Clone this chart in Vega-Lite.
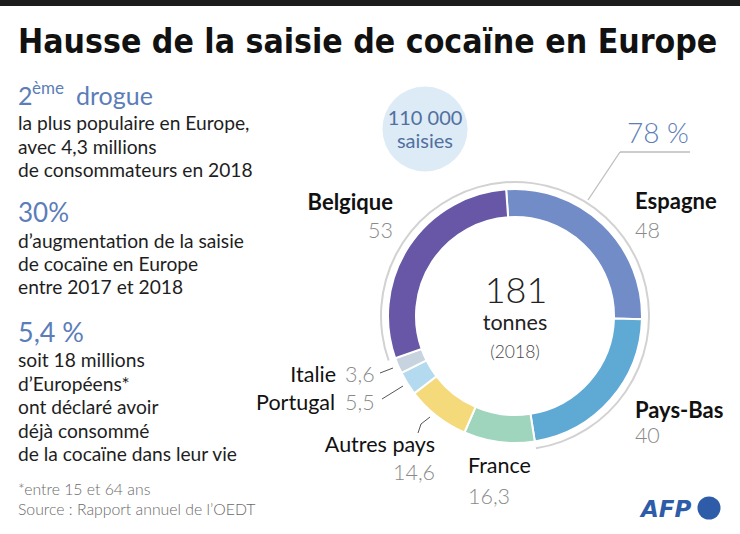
{
  "$schema": "https://vega.github.io/schema/vega-lite/v6.json",
  "width": 740,
  "height": 534,
  "autosize": {"type": "none"},
  "padding": 0,
  "background": "white",
  "config": {
    "view": {"stroke": null},
    "font": "Lato",
    "locale": {"number": {"decimal": ",", "thousands": "\u00a0", "grouping": [3], "currency": ["", "\u00a0€"]}}
  },
  "datasets": {
    "pays": [
      {"pays": "Espagne", "tonnes": 48},
      {"pays": "Pays-Bas", "tonnes": 40},
      {"pays": "France", "tonnes": 16.3},
      {"pays": "Autres pays", "tonnes": 14.6},
      {"pays": "Portugal", "tonnes": 5.5},
      {"pays": "Italie", "tonnes": 3.6},
      {"pays": "Belgique", "tonnes": 53}
    ],
    "one": [{"k": 1}]
  },
  "layer": [
    {
      "data": {"name": "one"},
      "mark": {"type": "rect", "color": "#1c1c1c"},
      "encoding": {
        "x": {"datum": 0, "type": "quantitative", "scale": {"domain": [0, 740], "nice": false, "zero": false}, "axis": null},
        "x2": {"datum": 740},
        "y": {"datum": 0, "type": "quantitative", "scale": {"domain": [0, 534], "reverse": true, "nice": false, "zero": false}, "axis": null},
        "y2": {"datum": 6}
      }
    },
    {
      "data": {"name": "one"},
      "mark": {"type": "text", "text": "Hausse de la saisie de cocaïne en Europe", "align": "left", "baseline": "alphabetic", "fontSize": 33.5, "fontWeight": "bold", "font": "DejaVu Sans Condensed", "color": "#111111"},
      "encoding": {
        "x": {"datum": 18, "type": "quantitative", "scale": {"domain": [0, 740], "nice": false, "zero": false}, "axis": null},
        "y": {"datum": 53, "type": "quantitative", "scale": {"domain": [0, 534], "reverse": true, "nice": false, "zero": false}, "axis": null}
      }
    },
    {
      "data": {"name": "one"},
      "mark": {"type": "text", "text": "2", "align": "left", "baseline": "alphabetic", "fontSize": 25, "color": "#5b7db8"},
      "encoding": {
        "x": {"datum": 18, "type": "quantitative", "scale": {"domain": [0, 740], "nice": false, "zero": false}, "axis": null},
        "y": {"datum": 105, "type": "quantitative", "scale": {"domain": [0, 534], "reverse": true, "nice": false, "zero": false}, "axis": null}
      }
    },
    {
      "data": {"name": "one"},
      "mark": {"type": "text", "text": "ème", "align": "left", "baseline": "alphabetic", "fontSize": 17, "color": "#5b7db8"},
      "encoding": {
        "x": {"datum": 32, "type": "quantitative", "scale": {"domain": [0, 740], "nice": false, "zero": false}, "axis": null},
        "y": {"datum": 94, "type": "quantitative", "scale": {"domain": [0, 534], "reverse": true, "nice": false, "zero": false}, "axis": null}
      }
    },
    {
      "data": {"name": "one"},
      "mark": {"type": "text", "text": "drogue", "align": "left", "baseline": "alphabetic", "fontSize": 25, "color": "#5b7db8"},
      "encoding": {
        "x": {"datum": 76, "type": "quantitative", "scale": {"domain": [0, 740], "nice": false, "zero": false}, "axis": null},
        "y": {"datum": 105, "type": "quantitative", "scale": {"domain": [0, 534], "reverse": true, "nice": false, "zero": false}, "axis": null}
      }
    },
    {
      "data": {"name": "one"},
      "mark": {"type": "text", "text": ["la plus populaire en Europe,", "avec 4,3 millions", "de consommateurs en 2018"], "align": "left", "baseline": "alphabetic", "fontSize": 19.2, "lineHeight": 23.5, "color": "#1e1e1e"},
      "encoding": {
        "x": {"datum": 18, "type": "quantitative", "scale": {"domain": [0, 740], "nice": false, "zero": false}, "axis": null},
        "y": {"datum": 130, "type": "quantitative", "scale": {"domain": [0, 534], "reverse": true, "nice": false, "zero": false}, "axis": null}
      }
    },
    {
      "data": {"name": "one"},
      "mark": {"type": "text", "text": "30%", "align": "left", "baseline": "alphabetic", "fontSize": 26, "color": "#5b7db8"},
      "encoding": {
        "x": {"datum": 18, "type": "quantitative", "scale": {"domain": [0, 740], "nice": false, "zero": false}, "axis": null},
        "y": {"datum": 222, "type": "quantitative", "scale": {"domain": [0, 534], "reverse": true, "nice": false, "zero": false}, "axis": null}
      }
    },
    {
      "data": {"name": "one"},
      "mark": {"type": "text", "text": ["d’augmentation de la saisie", "de cocaïne en Europe", "entre 2017 et 2018"], "align": "left", "baseline": "alphabetic", "fontSize": 19.2, "lineHeight": 23, "color": "#1e1e1e"},
      "encoding": {
        "x": {"datum": 18, "type": "quantitative", "scale": {"domain": [0, 740], "nice": false, "zero": false}, "axis": null},
        "y": {"datum": 248, "type": "quantitative", "scale": {"domain": [0, 534], "reverse": true, "nice": false, "zero": false}, "axis": null}
      }
    },
    {
      "data": {"name": "one"},
      "mark": {"type": "text", "text": "5,4 %", "align": "left", "baseline": "alphabetic", "fontSize": 27, "color": "#5b7db8"},
      "encoding": {
        "x": {"datum": 18, "type": "quantitative", "scale": {"domain": [0, 740], "nice": false, "zero": false}, "axis": null},
        "y": {"datum": 342, "type": "quantitative", "scale": {"domain": [0, 534], "reverse": true, "nice": false, "zero": false}, "axis": null}
      }
    },
    {
      "data": {"name": "one"},
      "mark": {"type": "text", "text": ["soit 18 millions", "d’Européens*", "ont déclaré avoir", "déjà consommé", "de la cocaïne dans leur vie"], "align": "left", "baseline": "alphabetic", "fontSize": 19.2, "lineHeight": 23.5, "color": "#1e1e1e"},
      "encoding": {
        "x": {"datum": 18, "type": "quantitative", "scale": {"domain": [0, 740], "nice": false, "zero": false}, "axis": null},
        "y": {"datum": 367, "type": "quantitative", "scale": {"domain": [0, 534], "reverse": true, "nice": false, "zero": false}, "axis": null}
      }
    },
    {
      "data": {"name": "one"},
      "mark": {"type": "text", "text": ["*entre 15 et 64 ans", "Source : Rapport annuel de l’OEDT"], "align": "left", "baseline": "alphabetic", "fontSize": 15.8, "lineHeight": 20, "color": "#6a6a6a", "fontWeight": 300},
      "encoding": {
        "x": {"datum": 18, "type": "quantitative", "scale": {"domain": [0, 740], "nice": false, "zero": false}, "axis": null},
        "y": {"datum": 495, "type": "quantitative", "scale": {"domain": [0, 534], "reverse": true, "nice": false, "zero": false}, "axis": null}
      }
    },
    {
      "data": {"name": "one"},
      "mark": {"type": "point", "shape": "circle", "filled": true, "size": 7238, "color": "#dcebf6", "opacity": 1},
      "encoding": {
        "x": {"datum": 425, "type": "quantitative", "scale": {"domain": [0, 740], "nice": false, "zero": false}, "axis": null},
        "y": {"datum": 129, "type": "quantitative", "scale": {"domain": [0, 534], "reverse": true, "nice": false, "zero": false}, "axis": null}
      }
    },
    {
      "data": {"name": "one"},
      "mark": {"type": "text", "text": ["110 000", "saisies"], "align": "center", "baseline": "alphabetic", "fontSize": 20, "lineHeight": 23, "color": "#52709f"},
      "encoding": {
        "x": {"datum": 425, "type": "quantitative", "scale": {"domain": [0, 740], "nice": false, "zero": false}, "axis": null},
        "y": {"datum": 125, "type": "quantitative", "scale": {"domain": [0, 534], "reverse": true, "nice": false, "zero": false}, "axis": null}
      }
    },
    {
      "data": {"name": "one"},
      "mark": {"type": "text", "text": "78 %", "align": "left", "baseline": "alphabetic", "fontSize": 28, "fontWeight": 300, "color": "#5b7db8"},
      "encoding": {
        "x": {"datum": 627, "type": "quantitative", "scale": {"domain": [0, 740], "nice": false, "zero": false}, "axis": null},
        "y": {"datum": 143, "type": "quantitative", "scale": {"domain": [0, 534], "reverse": true, "nice": false, "zero": false}, "axis": null}
      }
    },
    {
      "data": {"name": "one"},
      "mark": {"type": "rule", "color": "#bdbdbd", "strokeWidth": 1.3},
      "encoding": {
        "x": {"datum": 588, "type": "quantitative", "scale": {"domain": [0, 740], "nice": false, "zero": false}, "axis": null},
        "y": {"datum": 200, "type": "quantitative", "scale": {"domain": [0, 534], "reverse": true, "nice": false, "zero": false}, "axis": null},
        "x2": {"datum": 620},
        "y2": {"datum": 152}
      }
    },
    {
      "data": {"name": "one"},
      "mark": {"type": "rule", "color": "#bdbdbd", "strokeWidth": 1.3},
      "encoding": {
        "x": {"datum": 620, "type": "quantitative", "scale": {"domain": [0, 740], "nice": false, "zero": false}, "axis": null},
        "y": {"datum": 152, "type": "quantitative", "scale": {"domain": [0, 534], "reverse": true, "nice": false, "zero": false}, "axis": null},
        "x2": {"datum": 690},
        "y2": {"datum": 152}
      }
    },
    {
      "data": {"name": "one"},
      "mark": {"type": "arc", "innerRadius": 133, "outerRadius": 135, "color": "#d2d2d2"},
      "encoding": {
        "x": {"datum": 515, "type": "quantitative", "scale": {"domain": [0, 740], "nice": false, "zero": false}, "axis": null},
        "y": {"datum": 316, "type": "quantitative", "scale": {"domain": [0, 534], "reverse": true, "nice": false, "zero": false}, "axis": null},
        "theta": {"datum": 128, "type": "quantitative", "scale": {"domain": [0, 181], "range": [-0.0698, 6.2134]}},
        "theta2": {"datum": 269}
      }
    },
    {
      "data": {"name": "pays"},
      "transform": [{"window": [{"op": "row_number", "as": "idx"}]}],
      "mark": {"type": "arc", "innerRadius": 99, "outerRadius": 127, "stroke": "white", "strokeWidth": 2},
      "encoding": {
        "x": {"datum": 515, "type": "quantitative", "scale": {"domain": [0, 740], "nice": false, "zero": false}, "axis": null},
        "y": {"datum": 316, "type": "quantitative", "scale": {"domain": [0, 534], "reverse": true, "nice": false, "zero": false}, "axis": null},
        "theta": {"field": "tonnes", "type": "quantitative", "stack": true, "scale": {"domain": [0, 181], "range": [-0.0698, 6.2134]}},
        "order": {"field": "idx", "type": "quantitative"},
        "color": {"field": "pays", "type": "nominal", "legend": null, "scale": {
          "domain": ["Espagne", "Pays-Bas", "France", "Autres pays", "Portugal", "Italie", "Belgique"],
          "range": ["#728cc8", "#5eaad5", "#9fd4bd", "#f4da7a", "#b3daee", "#c7d3df", "#6757a6"]}}
      }
    },
    {
      "data": {"name": "pays"},
      "transform": [{"aggregate": [{"op": "sum", "field": "tonnes", "as": "total"}]}],
      "mark": {"type": "text", "align": "center", "baseline": "alphabetic", "fontSize": 36, "fontWeight": 300, "color": "#222222"},
      "encoding": {
        "x": {"datum": 516, "type": "quantitative", "scale": {"domain": [0, 740], "nice": false, "zero": false}, "axis": null},
        "y": {"datum": 303, "type": "quantitative", "scale": {"domain": [0, 534], "reverse": true, "nice": false, "zero": false}, "axis": null},
        "text": {"field": "total", "type": "quantitative", "format": ".0f"}
      }
    },
    {
      "data": {"name": "one"},
      "mark": {"type": "text", "text": "tonnes", "align": "center", "baseline": "alphabetic", "fontSize": 21.5, "color": "#222222"},
      "encoding": {
        "x": {"datum": 515, "type": "quantitative", "scale": {"domain": [0, 740], "nice": false, "zero": false}, "axis": null},
        "y": {"datum": 330, "type": "quantitative", "scale": {"domain": [0, 534], "reverse": true, "nice": false, "zero": false}, "axis": null}
      }
    },
    {
      "data": {"name": "one"},
      "mark": {"type": "text", "text": "(2018)", "align": "center", "baseline": "alphabetic", "fontSize": 17.5, "fontWeight": 300, "color": "#444444"},
      "encoding": {
        "x": {"datum": 515, "type": "quantitative", "scale": {"domain": [0, 740], "nice": false, "zero": false}, "axis": null},
        "y": {"datum": 358, "type": "quantitative", "scale": {"domain": [0, 534], "reverse": true, "nice": false, "zero": false}, "axis": null}
      }
    },
    {
      "data": {"name": "pays"},
      "transform": [{"window": [{"op": "row_number", "as": "idx"}]}],
      "mark": {
        "type": "text", "radius": 160, "baseline": "alphabetic", "color": "#111111",
        "fontSize": {"expr": "indexof(['Espagne','Pays-Bas','Belgique'], datum.pays) >= 0 ? 22 : 21.5"},
        "align": {"expr": "indexof(['Espagne','Pays-Bas','France'], datum.pays) >= 0 ? 'left' : 'right'"},
        "fontWeight": {"expr": "indexof(['Espagne','Pays-Bas','Belgique'], datum.pays) >= 0 ? 'bold' : 'normal'"},
        "dx": {"expr": "datum.pays==='Espagne'?9.5:datum.pays==='Pays-Bas'?-0.4:datum.pays==='France'?-26.9:datum.pays==='Autres pays'?18.5:datum.pays==='Portugal'?-44.3:datum.pays==='Italie'?-31.7:11.7"},
        "dy": {"expr": "datum.pays==='Espagne'?8.7:datum.pays==='Pays-Bas'?-3.4:datum.pays==='France'?-1.7:datum.pays==='Autres pays'?9.9:datum.pays==='Portugal'?9.2:datum.pays==='Italie'?3.5:-18.2"}
      },
      "encoding": {
        "x": {"datum": 515, "type": "quantitative", "scale": {"domain": [0, 740], "nice": false, "zero": false}, "axis": null},
        "y": {"datum": 316, "type": "quantitative", "scale": {"domain": [0, 534], "reverse": true, "nice": false, "zero": false}, "axis": null},
        "theta": {"field": "tonnes", "type": "quantitative", "stack": true, "scale": {"domain": [0, 181], "range": [-0.0698, 6.2134]}},
        "order": {"field": "idx", "type": "quantitative"},
        "text": {"field": "pays", "type": "nominal"}
      }
    },
    {
      "data": {"name": "pays"},
      "transform": [{"window": [{"op": "row_number", "as": "idx"}]}],
      "mark": {
        "type": "text", "radius": 160, "baseline": "alphabetic", "fontSize": 21.5, "fontWeight": 300, "color": "#8a8a8a",
        "align": {"expr": "indexof(['Espagne','Pays-Bas','France','Portugal','Italie'], datum.pays) >= 0 ? 'left' : 'right'"},
        "dx": {"expr": "datum.pays==='Espagne'?9.5:datum.pays==='Pays-Bas'?-0.4:datum.pays==='France'?-26.9:datum.pays==='Autres pays'?18.5:datum.pays==='Portugal'?-34.3:datum.pays==='Italie'?-22.7:11.7"},
        "dy": {"expr": "datum.pays==='Espagne'?37.7:datum.pays==='Pays-Bas'?22:datum.pays==='France'?29:datum.pays==='Autres pays'?37.9:datum.pays==='Portugal'?9.2:datum.pays==='Italie'?3.5:9.8"}
      },
      "encoding": {
        "x": {"datum": 515, "type": "quantitative", "scale": {"domain": [0, 740], "nice": false, "zero": false}, "axis": null},
        "y": {"datum": 316, "type": "quantitative", "scale": {"domain": [0, 534], "reverse": true, "nice": false, "zero": false}, "axis": null},
        "theta": {"field": "tonnes", "type": "quantitative", "stack": true, "scale": {"domain": [0, 181], "range": [-0.0698, 6.2134]}},
        "order": {"field": "idx", "type": "quantitative"},
        "text": {"field": "tonnes", "type": "quantitative", "format": ".1~f"}
      }
    },
    {
      "data": {"name": "one"},
      "mark": {"type": "rule", "color": "#555555", "strokeWidth": 1},
      "encoding": {
        "x": {"datum": 380, "type": "quantitative", "scale": {"domain": [0, 740], "nice": false, "zero": false}, "axis": null},
        "y": {"datum": 373, "type": "quantitative", "scale": {"domain": [0, 534], "reverse": true, "nice": false, "zero": false}, "axis": null},
        "x2": {"datum": 393},
        "y2": {"datum": 368}
      }
    },
    {
      "data": {"name": "one"},
      "mark": {"type": "rule", "color": "#555555", "strokeWidth": 1},
      "encoding": {
        "x": {"datum": 382, "type": "quantitative", "scale": {"domain": [0, 740], "nice": false, "zero": false}, "axis": null},
        "y": {"datum": 399, "type": "quantitative", "scale": {"domain": [0, 534], "reverse": true, "nice": false, "zero": false}, "axis": null},
        "x2": {"datum": 403},
        "y2": {"datum": 386}
      }
    },
    {
      "data": {"name": "one"},
      "mark": {"type": "rule", "color": "#555555", "strokeWidth": 1},
      "encoding": {
        "x": {"datum": 418, "type": "quantitative", "scale": {"domain": [0, 740], "nice": false, "zero": false}, "axis": null},
        "y": {"datum": 433, "type": "quantitative", "scale": {"domain": [0, 534], "reverse": true, "nice": false, "zero": false}, "axis": null},
        "x2": {"datum": 421},
        "y2": {"datum": 424}
      }
    },
    {
      "data": {"name": "one"},
      "mark": {"type": "rule", "color": "#555555", "strokeWidth": 1},
      "encoding": {
        "x": {"datum": 421, "type": "quantitative", "scale": {"domain": [0, 740], "nice": false, "zero": false}, "axis": null},
        "y": {"datum": 424, "type": "quantitative", "scale": {"domain": [0, 534], "reverse": true, "nice": false, "zero": false}, "axis": null},
        "x2": {"datum": 430},
        "y2": {"datum": 417}
      }
    },
    {
      "data": {"name": "one"},
      "mark": {"type": "text", "text": "AFP", "align": "left", "baseline": "alphabetic", "fontSize": 23, "fontWeight": "bold", "fontStyle": "italic", "font": "DejaVu Sans", "color": "#2e5ca9"},
      "encoding": {
        "x": {"datum": 641, "type": "quantitative", "scale": {"domain": [0, 740], "nice": false, "zero": false}, "axis": null},
        "y": {"datum": 517, "type": "quantitative", "scale": {"domain": [0, 534], "reverse": true, "nice": false, "zero": false}, "axis": null}
      }
    },
    {
      "data": {"name": "one"},
      "mark": {"type": "point", "shape": "circle", "filled": true, "size": 531, "color": "#2e5ca9", "opacity": 1},
      "encoding": {
        "x": {"datum": 709, "type": "quantitative", "scale": {"domain": [0, 740], "nice": false, "zero": false}, "axis": null},
        "y": {"datum": 508, "type": "quantitative", "scale": {"domain": [0, 534], "reverse": true, "nice": false, "zero": false}, "axis": null}
      }
    }
  ]
}
